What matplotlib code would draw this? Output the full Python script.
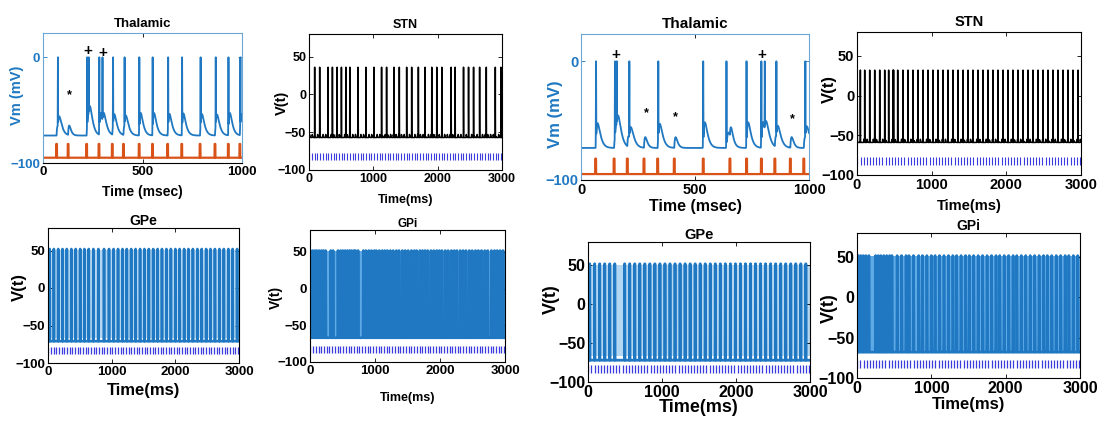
import numpy as np
import matplotlib.pyplot as plt

plt.rcParams['font.family'] = ['Liberation Sans', 'DejaVu Sans']
plt.rcParams['font.weight'] = 'bold'
plt.rcParams['axes.labelweight'] = 'bold'
plt.rcParams['axes.titleweight'] = 'bold'

# ---------------- data (ms, mV) ----------------
# left block (normal), right block (other condition)
thal_L_spikes = [75, 222, 230, 283, 299, 352, 410, 484, 551, 629, 699, 792, 868, 932, 992]
thal_L_pulses = [68, 126, 219, 281, 348, 404, 483, 550, 626, 697, 789, 864, 931, 989]
thal_L_stars = [(134, -36)]
thal_L_plus = [(226, 6), (301, 4)]

thal_R_spikes = [66, 149, 157, 212, 339, 536, 638, 726, 791, 806, 857, 984]
thal_R_pulses = [64, 145, 203, 276, 336, 409, 536, 653, 726, 791, 850, 918, 977]
thal_R_stars = [(285, -44), (416, -47), (927, -49)]
thal_R_plus = [(153, 5), (791, 5)]

stn_L_spikes = [88, 166, 296, 364, 437, 504, 572, 634, 764, 884, 1009, 1128, 1206, 1321,
                1404, 1518, 1596, 1700, 1804, 1908, 1986, 2064, 2210, 2272, 2402, 2480,
                2558, 2652, 2756, 2896, 2984]
stn_R_spikes = [3, 45, 103, 170, 237, 304, 371, 424, 482, 490, 545, 616, 683, 750, 817, 884,
                951, 1018, 1085, 1152, 1219, 1286, 1353, 1420, 1487, 1554, 1621, 1687,
                1754, 1821, 1888, 1955, 2022, 2089, 2156, 2223, 2290, 2357, 2424, 2491,
                2558, 2625, 2692, 2759, 2826, 2893, 2960]

gpe_L_spikes = [26, 92, 160, 228, 296, 366, 436, 505, 572, 640, 712, 790, 880, 958, 1030,
                1100, 1170, 1238, 1306, 1376, 1446, 1514, 1584, 1652, 1722, 1790, 1860,
                1930, 2000, 2068, 2138, 2206, 2276, 2346, 2414, 2484, 2552, 2622, 2692,
                2762, 2832, 2900, 2970]
gpe_R_spikes = [23, 90, 158, 226, 294, 362, 496, 564, 632, 700, 768, 836, 904, 972, 1040,
                1108, 1176, 1244, 1312, 1380, 1448, 1516, 1584, 1652, 1720, 1788, 1856,
                1924, 1992, 2060, 2128, 2196, 2264, 2332, 2400, 2468, 2536, 2604, 2672,
                2740, 2808, 2876, 2944]

gpi_L_spikes = [5, 40, 75, 105, 140, 175, 205, 240, 320, 355, 430, 470, 505, 540, 575, 610,
                640, 675, 700, 740, 820, 860, 905, 945, 990, 1020, 1065, 1110, 1150, 1190,
                1235, 1280, 1330, 1370, 1420, 1465, 1510, 1560, 1605, 1640, 1690, 1730,
                1770, 1810, 1860, 1905, 1950, 1990, 2030, 2080, 2125, 2175, 2220, 2260,
                2310, 2355, 2400, 2450, 2495, 2545, 2590, 2640, 2690, 2735, 2790, 2840,
                2880, 2925, 2970]
gpi_R_spikes = [20, 50, 85, 120, 160, 250, 285, 320, 360, 400, 440, 470, 540, 600, 660, 700,
                760, 830, 880, 940, 1000, 1050, 1110, 1170, 1230, 1290, 1340, 1400, 1460,
                1510, 1570, 1630, 1690, 1750, 1810, 1870, 1920, 1980, 2040, 2100, 2150,
                2210, 2270, 2330, 2390, 2450, 2510, 2560, 2620, 2680, 2740, 2800, 2850,
                2910, 2970]

dbs_period_ms = 42          # spacing of the blue input ticks
thal_T, bg_T = 1000, 3000

BLUE = '#1f78c1'
ORANGE = '#d95319'
TICKBLUE = '#3b3be0'

W, H = 1101, 421


def box(l, t, r, b):
    return [l / W, 1 - b / H, (r - l) / W, (b - t) / H]


def alpha_sum(t, times, amp, tau):
    v = np.zeros_like(t)
    for s in times:
        d = t - s
        m = d > 0
        v[m] += amp * (d[m] / tau) * np.exp(1 - d[m] / tau)
    return v


def trace(t, rest, spikes, peak, width, after=0, after_tau=5, bumps=(), bump_amp=0, bump_tau=3):
    sub = rest + alpha_sum(t, spikes, after, after_tau) + alpha_sum(t, bumps, bump_amp, bump_tau)
    env = np.full_like(t, -np.inf)
    for s in spikes:
        env = np.maximum(env, rest + (peak - rest) * np.exp(-((t - s) / width) ** 2))
    return np.maximum(sub, env)


def style(ax, fs, xticks, yticks, xlim, ylim):
    ax.set_xlim(*xlim)
    ax.set_ylim(*ylim)
    ax.set_xticks(xticks)
    ax.set_yticks(yticks)
    ax.tick_params(direction='in', top=True, right=True, length=3, width=0.6,
                   labelsize=fs, pad=2)
    for sp in ax.spines.values():
        sp.set_linewidth(0.8)


fig = plt.figure(figsize=(W / 100, H / 100), dpi=100)

# ---------------- Thalamic panels ----------------
tt = np.arange(0, thal_T + 0.1, 0.1)
for pos, spikes, pulses, stars, plus, rest, fs, lfs, ylc, xly in [
        (box(43, 33, 242, 163), thal_L_spikes, thal_L_pulses, thal_L_stars, thal_L_plus,
         -74, 9.5, 10.5, (-0.095, 0.52), -0.17),
        (box(581, 34, 809, 180), thal_R_spikes, thal_R_pulses, thal_R_stars, thal_R_plus,
         -73, 10.5, 12, (-0.081, 0.45), -0.13)]:
    ax = fig.add_axes(pos)
    v = trace(tt, rest, spikes, 0, 0.9, after=13, after_tau=9, bumps=pulses, bump_amp=9, bump_tau=6)
    ax.plot(tt, v, color=BLUE, lw=1.3)
    stim = np.full_like(tt, -95.0)
    for p in pulses:
        stim[np.abs(tt - p) < 2.0] = -82
    ax.plot(tt, stim, color=ORANGE, lw=1.6)
    for x, y in stars:
        ax.text(x, y, '*', ha='center', va='center', fontsize=9)
    for x, y in plus:
        ax.text(x, y, '+', ha='center', va='center', fontsize=11)
    style(ax, fs, [0, 500, 1000], [-100, 0], (0, 1000), (-100, 23))
    ax.tick_params(axis='y', colors=BLUE, labelsize=fs)
    ax.tick_params(axis='x', colors='black')
    for k in ('left', 'right', 'top'):
        ax.spines[k].set_color('#6aa6d6')
    ax.set_title('Thalamic', fontsize=lfs - 1, pad=4)
    ax.set_ylabel('Vm (mV)', color=BLUE, fontsize=lfs)
    ax.yaxis.set_label_coords(*ylc)
    ax.set_xlabel('Time (msec)', fontsize=lfs - 0.5)
    ax.xaxis.set_label_coords(0.5, xly)

# ---------------- STN panels ----------------
tb = np.arange(0, bg_T + 0.25, 0.25)
dbs = np.arange(5, bg_T, dbs_period_ms)
for pos, spikes, rest, peak, tk, fs, lfs, ylc, xly in [
        (box(309, 34, 502, 170), stn_L_spikes, -57, 36, (-87, -77), 9, 9.5, (-0.104, 0.49), -0.18),
        (box(857, 32, 1081, 175), stn_R_spikes, -59, 32, (-88, -77), 10.5, 11, (-0.089, 0.6), -0.168)]:
    ax = fig.add_axes(pos)
    v = trace(tb, rest, spikes, peak, 0.8, after=-6, after_tau=4, bumps=dbs, bump_amp=4, bump_tau=3)
    ax.plot(tb, v, color='black', lw=1.1)
    ax.vlines(dbs, tk[0], tk[1], color=TICKBLUE, lw=0.8)
    style(ax, fs, [0, 1000, 2000, 3000], [-100, -50, 0, 50], (0, 3000), (-100, 80))
    ax.set_title('STN', fontsize=lfs - 0.5, pad=4)
    ax.set_ylabel('V(t)', fontsize=lfs + 1)
    ax.yaxis.set_label_coords(*ylc)
    ax.set_xlabel('Time(ms)', fontsize=lfs - 0.5)
    ax.xaxis.set_label_coords(0.5, xly)

# ---------------- GPe / GPi panels ----------------
for pos, spikes, name, rest, width, band, lw, fs, lfs, tfs, ylc, xly in [
        (box(48, 228, 239, 363), gpe_L_spikes, 'GPe', -71, 1.5, '#b3d7f2', 1.9, 9.5, 12, 10,
         (-0.11, 0.56), -0.148),
        (box(310, 230, 505, 362), gpi_L_spikes, 'GPi', -67, 2.5, '#5fa9e6', 1.9, 9.5, 10, 8.5,
         (-0.14, 0.49), -0.227),
        (box(588, 242, 810, 382), gpe_R_spikes, 'GPe', -72, 1.5, '#b3d7f2', 2.0, 11.5, 13, 10.5,
         (-0.126, 0.59), -0.118),
        (box(857, 233, 1080, 378), gpi_R_spikes, 'GPi', -68, 2.5, '#5fa9e6', 1.9, 11.5, 13, 10,
         (-0.086, 0.48), -0.13)]:
    ax = fig.add_axes(pos)
    ax.fill_between([0, 3000], -66, 51, color=band, lw=0, zorder=0)
    v = trace(tb, rest, spikes, 52, width, after=-8, after_tau=6, bumps=dbs, bump_amp=-6, bump_tau=2)
    ax.plot(tb, v, color=BLUE, lw=lw, zorder=2)
    ax.vlines(dbs, -88, -78, color=TICKBLUE, lw=0.9, zorder=1)
    style(ax, fs, [0, 1000, 2000, 3000], [-100, -50, 0, 50], (0, 3000), (-100, 80))
    ax.set_title(name, fontsize=tfs, pad=2)
    ax.set_ylabel('V(t)', fontsize=lfs)
    ax.yaxis.set_label_coords(*ylc)
    ax.set_xlabel('Time(ms)', fontsize=lfs - 1 if name == 'GPi' else lfs)
    ax.xaxis.set_label_coords(0.5, xly)

fig.savefig('out.png', dpi=100)
